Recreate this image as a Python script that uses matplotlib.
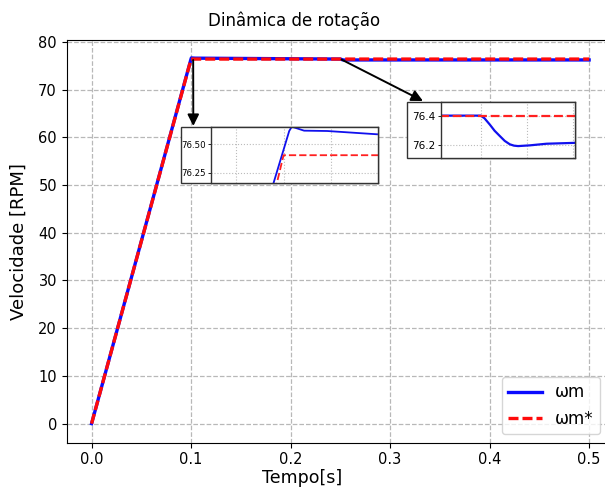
import matplotlib
matplotlib.use('Agg')
import matplotlib.pyplot as plt
import matplotlib.ticker as mticker
from matplotlib.patches import Rectangle

# ==========================================
# DATA
# ==========================================
# reference speed
t_ref = [0.0, 0.1, 0.5]
w_ref = [0.0, 76.4, 76.4]

# measured speed
t_m = [0.0, 0.09958, 0.10024, 0.10038, 0.10087, 0.10185, 0.10396,
       0.25, 0.2504, 0.25098, 0.2515, 0.25207, 0.2526, 0.25315, 0.25405,
       0.25533, 0.25713, 0.26022, 0.5]
w_m = [0.0, 76.16, 76.617, 76.652, 76.62, 76.617, 76.588,
       76.4, 76.382, 76.339, 76.297, 76.261, 76.228, 76.205, 76.193,
       76.198, 76.209, 76.215, 76.215]

# zoom 1 (speed reaching the set point)
t_z1_ref = [0.09680, 0.09972, 0.1, 0.104]
w_z1_ref = [73.9, 76.16, 76.403, 76.403]
t_z1_m = [0.0965, 0.09958, 0.10024, 0.10032, 0.10038, 0.10050, 0.10087, 0.10185, 0.10396]
w_z1_m = [73.8, 76.16, 76.617, 76.645, 76.652, 76.645, 76.62, 76.617, 76.588]

# zoom 2 (load step)
t_z2_ref = [0.2456, 0.2603]
w_z2_ref = [76.4, 76.4]
t_z2_m = [0.2456, 0.25, 0.2504, 0.25098, 0.2515, 0.25207, 0.2526, 0.25315,
          0.2536, 0.25405, 0.25533, 0.25713, 0.26022]
w_z2_m = [76.4, 76.4, 76.382, 76.339, 76.297, 76.261, 76.228, 76.205,
          76.196, 76.193, 76.198, 76.209, 76.215]

x_ticks = [0.0, 0.1, 0.2, 0.3, 0.4, 0.5]
y_ticks = [0, 10, 20, 30, 40, 50, 60, 70, 80]

W, H = 605, 492


def frac(x0, y0, x1, y1):
    # pixel box (top-left origin) -> figure fraction [l, b, w, h]
    return [x0 / W, 1 - y1 / H, (x1 - x0) / W, (y1 - y0) / H]


fig = plt.figure(figsize=(6.05, 4.92), dpi=100)
ax = fig.add_axes(frac(66.7, 39.5, 614, 442.7))

ax.plot(t_m, w_m, color='#0a0aff', linewidth=2.4, label='ωm', zorder=3)
ax.plot(t_ref, w_ref, color='#ff0a0a', linewidth=2.4, linestyle='--',
        dashes=(3.0, 1.2), label='ωm*', zorder=4)
ax.set_xlim(-0.025, 0.525)
ax.set_ylim(-4, 80.5)
ax.set_xticks(x_ticks)
ax.set_yticks(y_ticks)
ax.tick_params(labelsize=10.5)
ax.spines['right'].set_visible(False)
ax.grid(True, linestyle='--', color='#b8b8b8', linewidth=0.9)
ax.set_ylabel('Velocidade [RPM]', fontsize=13)
ax.yaxis.set_label_coords(-0.071, 0.5)
ax.set_xlabel('Tempo[s]', fontsize=12.5)
ax.xaxis.set_label_coords((302 - 66.7) / (614 - 66.7), -0.066)
fig.text(294 / W, 1 - 21 / H, 'Dinâmica de rotação', fontsize=12,
         ha='center', va='center')
ax.legend(loc='lower right', fontsize=12, bbox_to_anchor=(0.99, 0.0))

# --- zoom boxes ---
def zoom_box(box, inner_left, xlim, ylim, yticks, xgrid, tsets, lw, fs):
    x0, y0, x1, y1 = box
    fig.patches.append(Rectangle((x0 / W, 1 - y1 / H), (x1 - x0) / W, (y1 - y0) / H,
                                 transform=fig.transFigure, facecolor='white',
                                 edgecolor='#333333', linewidth=1.0, zorder=5))
    axi = fig.add_axes(frac(inner_left, y0, x1, y1), zorder=6)
    for (tt, ww, col, ls) in tsets:
        if ls == '--':
            axi.plot(tt, ww, color=col, linewidth=lw, linestyle='--', dashes=(4, 1.7))
        else:
            axi.plot(tt, ww, color=col, linewidth=lw)
    axi.set_xlim(*xlim)
    axi.set_ylim(*ylim)
    axi.set_yticks(yticks)
    axi.set_xticks(xgrid)
    axi.set_xticklabels([])
    axi.tick_params(axis='x', length=0)
    axi.tick_params(axis='y', labelsize=fs, length=2, width=0.6, pad=2)
    axi.grid(True, linestyle=':', color='#bbbbbb', linewidth=0.8)
    for s in axi.spines.values():
        s.set_color('#333333')
        s.set_linewidth(1.0)
    return axi


ax1 = zoom_box((181, 126.7, 378, 182.7), 211.3, (0.09694, 0.104), (76.16, 76.655),
               [76.25, 76.50], [0.098, 0.1, 0.102],
               [(t_z1_m, w_z1_m, '#1010ee', '-'), (t_z1_ref, w_z1_ref, '#ff2020', '--')],
               1.3, 6.2)
ax1.yaxis.set_major_formatter(mticker.FormatStrFormatter('%.2f'))

ax2 = zoom_box((407.3, 101.5, 575, 158.3), 440.7, (0.24565, 0.26022), (76.11, 76.496),
               [76.2, 76.4], [0.25, 0.255, 0.26],
               [(t_z2_m, w_z2_m, '#1010ee', '-'), (t_z2_ref, w_z2_ref, '#ff2020', '--')],
               1.6, 7.5)

# --- arrows from curve to zoom boxes ---
ax.annotate('', xy=(193.3 / W, 1 - 126 / H), xycoords='figure fraction',
            xytext=(0.1021, 76.2), textcoords='data',
            arrowprops=dict(arrowstyle='-|>', color='black', lw=1.4, mutation_scale=17,
                            shrinkA=0, shrinkB=0), zorder=7)
ax.annotate('', xy=(423 / W, 1 - 101 / H), xycoords='figure fraction',
            xytext=(0.2512, 76.3), textcoords='data',
            arrowprops=dict(arrowstyle='-|>', color='black', lw=1.4, mutation_scale=17,
                            shrinkA=0, shrinkB=0), zorder=7)

fig.savefig('out.png', dpi=100)
